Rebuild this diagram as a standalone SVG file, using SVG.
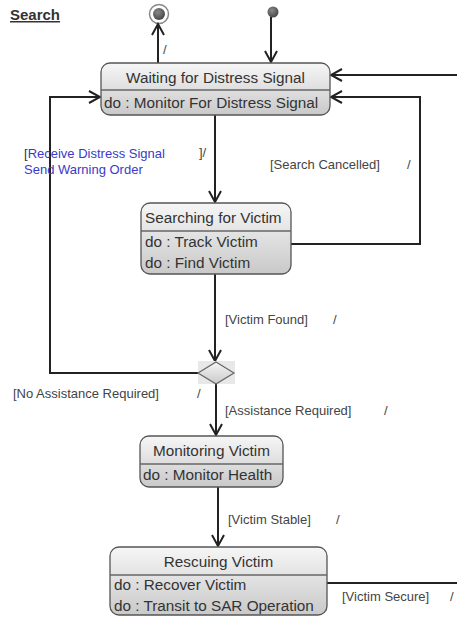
<svg xmlns="http://www.w3.org/2000/svg" width="457" height="617" viewBox="0 0 457 617">
<defs>
<linearGradient id="g" x1="0" y1="0" x2="0" y2="1">
<stop offset="0" stop-color="#f6f6f6"/>
<stop offset="1" stop-color="#c9c9c9"/>
</linearGradient>
<radialGradient id="dot" cx="0.4" cy="0.35" r="0.7">
<stop offset="0" stop-color="#888"/>
<stop offset="1" stop-color="#444"/>
</radialGradient>
<marker id="arr" markerWidth="14" markerHeight="14" refX="12" refY="7" orient="auto" markerUnits="userSpaceOnUse">
<path d="M1,1 L12,7 L1,13" fill="none" stroke="#222" stroke-width="2"/>
</marker>
</defs>
<style>
.box{fill:url(#g);stroke:#555;stroke-width:1.3}
.div{stroke:#666;stroke-width:1.3}
.t{font-family:"Liberation Sans",Arial,sans-serif;font-size:15.3px;fill:#333}
.l{font-family:"Liberation Sans",Arial,sans-serif;font-size:13px;fill:#444}
.b{fill:#3a3ac8}
.c{fill:none;stroke:#222;stroke-width:2;marker-end:url(#arr)}
</style>
<rect width="457" height="617" fill="#fff"/>
<text x="10" y="20" class="t" style="font-weight:bold;text-decoration:underline;font-size:15px">Search</text>

<g id="final">
<circle cx="159" cy="14" r="9.5" fill="#fff" stroke="#888" stroke-width="1.5"/>
<circle cx="159" cy="14" r="6" fill="url(#dot)"/>
</g>
<g id="initial">
<circle cx="273" cy="12" r="5.5" fill="url(#dot)"/>
</g>

<g id="connectors">
<path class="c" d="M158,63 L158,24"/>
<path class="c" d="M271,17 L271,62"/>
<path class="c" d="M215,115 L215,202"/>
<path class="c" d="M291,244 L420,244 L420,97 L331,97"/>
<path class="c" d="M215,274 L215,361"/>
<path class="c" d="M199,373 L50,373 L50,97 L100,97"/>
<path class="c" d="M216,384 L216,435"/>
<path class="c" d="M218,487 L218,546"/>
<path fill="none" stroke="#222" stroke-width="2" d="M327,583 L457,583"/>
<path class="c" d="M457,75 L331,75"/>
</g>

<g id="labels">
<text x="163" y="54" class="l">/</text>
<text x="24" y="158" class="l"><tspan fill="#333">[</tspan><tspan class="b">Receive Distress Signal</tspan></text>
<text x="24" y="174" class="l b">Send Warning Order</text>
<text x="199" y="157" class="l">]/</text>
<text x="270" y="169" class="l">[Search Cancelled]</text>
<text x="407" y="169" class="l">/</text>
<text x="225" y="324" class="l">[Victim Found]</text>
<text x="333" y="324" class="l">/</text>
<text x="13" y="398" class="l">[No Assistance Required]</text>
<text x="197" y="398" class="l">/</text>
<text x="225" y="415" class="l">[Assistance Required]</text>
<text x="384" y="415" class="l">/</text>
<text x="228" y="524" class="l">[Victim Stable]</text>
<text x="336" y="524" class="l">/</text>
<text x="342" y="601" class="l">[Victim Secure]</text>
<text x="450" y="601" class="l">/</text>
</g>

<g id="waiting">
<rect x="101" y="63" width="229" height="52" rx="9" class="box"/>
<line x1="101" y1="90" x2="330" y2="90" class="div"/>
<text x="215.5" y="83" class="t" text-anchor="middle">Waiting for Distress Signal</text>
<text x="104" y="108" class="t">do : Monitor For Distress Signal</text>
</g>

<g id="searching">
<rect x="141" y="203" width="150" height="71" rx="9" class="box"/>
<line x1="141" y1="231" x2="291" y2="231" class="div"/>
<text x="145" y="223" class="t">Searching for Victim</text>
<text x="145" y="247" class="t">do : Track Victim</text>
<text x="145" y="268" class="t">do : Find Victim</text>
</g>

<g id="decision">
<rect x="198" y="361" width="37" height="23" fill="#e8e8e8"/>
<polygon points="216,362 234,373 216,384 198,373" fill="url(#g)" stroke="#666" stroke-width="1.2"/>
</g>

<g id="monitoring">
<rect x="140" y="436" width="143" height="51" rx="9" class="box"/>
<line x1="140" y1="464" x2="283" y2="464" class="div"/>
<text x="211.5" y="456" class="t" text-anchor="middle">Monitoring Victim</text>
<text x="143" y="480" class="t">do : Monitor Health</text>
</g>

<g id="rescuing">
<rect x="110" y="547" width="217" height="68" rx="9" class="box"/>
<line x1="110" y1="575" x2="327" y2="575" class="div"/>
<text x="218.5" y="567" class="t" text-anchor="middle">Rescuing Victim</text>
<text x="114" y="590" class="t">do : Recover Victim</text>
<text x="114" y="611" class="t">do : Transit to SAR Operation</text>
</g>
</svg>
